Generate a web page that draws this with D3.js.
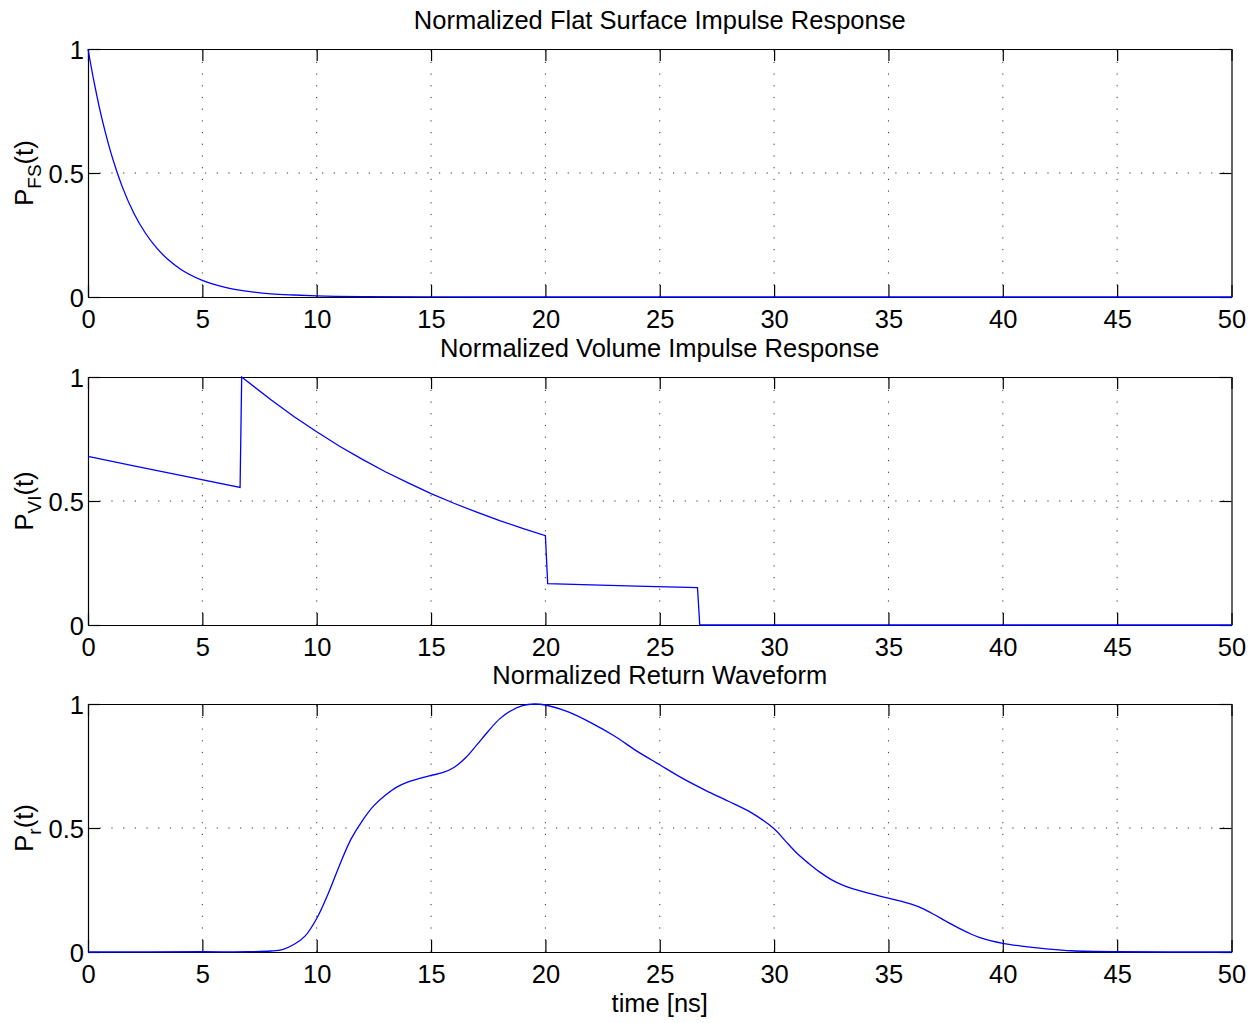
<!DOCTYPE html>
<html>
<head>
<meta charset="utf-8">
<script src="https://cdn.jsdelivr.net/npm/d3@7/dist/d3.min.js"></script>
<style>
  html, body { margin: 0; padding: 0; background: #fff; }
  svg text { font-family: "Liberation Sans", Arial, Helvetica, sans-serif; fill: #000; }
</style>
</head>
<body>
<svg id="chart" width="1257" height="1023"></svg>
<script>
// tick values shared by every panel
var xTicks = [0, 5, 10, 15, 20, 25, 30, 35, 40, 45, 50];
var yTicks = [0, 0.5, 1];

// panel 1: flat surface impulse response
var flatTime  = [0, 0.25, 0.5, 0.75, 1, 1.25, 1.5, 2, 2.5, 3, 3.5, 4, 5, 6, 7, 8, 9, 10, 12, 15, 20, 50];
var flatPower = [1, 0.874, 0.763, 0.667, 0.582, 0.509, 0.444, 0.339, 0.259, 0.198, 0.151, 0.115, 0.067, 0.039, 0.023, 0.013, 0.008, 0.0045, 0.0015, 0.0003, 0, 0];

// panel 2: volume impulse response
var volTime  = [0, 2, 4, 6.65, 6.72, 8, 9, 10, 11, 12, 13, 14, 15, 16, 17, 18, 19, 20, 20.1, 22, 24, 26.65, 26.75, 50];
var volPower = [0.68, 0.642, 0.604, 0.555, 1, 0.908, 0.841, 0.779, 0.721, 0.668, 0.618, 0.573, 0.530, 0.491, 0.455, 0.421, 0.390, 0.360, 0.167, 0.162, 0.157, 0.151, 0, 0];

// panel 3: return waveform
var retTime  = [0, 5, 7, 8, 8.5, 9, 9.5, 10, 10.5, 11, 11.5, 12, 12.5, 13, 13.5, 14, 14.5, 15, 15.5, 16, 16.5, 17, 17.5, 18, 18.5, 19, 19.5, 20, 21, 22, 23, 24, 25, 26, 27, 28, 29, 30, 30.5, 31, 31.5, 32, 32.5, 33, 34, 35, 36, 36.5, 37, 37.5, 38, 38.5, 39, 40, 41, 42, 43, 45, 50];
var retPower = [0, 0.001, 0.001, 0.004, 0.01, 0.03, 0.065, 0.135, 0.235, 0.35, 0.455, 0.53, 0.59, 0.632, 0.665, 0.686, 0.70, 0.712, 0.723, 0.744, 0.782, 0.835, 0.89, 0.94, 0.973, 0.993, 1.0, 0.996, 0.968, 0.924, 0.872, 0.81, 0.755, 0.70, 0.652, 0.608, 0.562, 0.497, 0.447, 0.398, 0.358, 0.322, 0.292, 0.27, 0.24, 0.217, 0.193, 0.175, 0.151, 0.125, 0.10, 0.077, 0.058, 0.035, 0.022, 0.012, 0.005, 0.001, 0];

var titles = ['Normalized Flat Surface Impulse Response', 'Normalized Volume Impulse Response', 'Normalized Return Waveform'];
var subscripts = ['FS', 'VI', 'r'];

var panels = [
  { time: flatTime, power: flatPower, curve: d3.curveMonotoneX },
  { time: volTime, power: volPower, curve: d3.curveLinear },
  { time: retTime, power: retPower, curve: d3.curveCatmullRom.alpha(0.5) }
];

var svg = d3.select('#chart');

var left = 88, right = 1231.5,
  panelTop = [49, 377, 704],
  panelHeight = 248,
  fontSize = 25.5;

var x = d3.scaleLinear().domain([0, 50]).range([left, right]);

panels.forEach(function(p, i) {
  var top = panelTop[i], bottom = top + panelHeight;
  var y = d3.scaleLinear().domain([0, 1]).range([bottom, top]);

  var g = svg.append('g').attr('class', 'panel-' + i);

  // dotted grid
  var grid = g.append('g').attr('class', 'grid')
    .attr('stroke', '#333').attr('stroke-width', 1).attr('stroke-dasharray', '1.2,10.5');

  grid.selectAll('line.gx').data(xTicks.slice(1, -1)).enter()
    .append('line').attr('class', 'gx')
    .attr('x1', d => x(d)).attr('x2', d => x(d))
    .attr('y1', bottom).attr('y2', top);

  grid.selectAll('line.gy').data(yTicks.slice(1, -1)).enter()
    .append('line').attr('class', 'gy')
    .attr('x1', left).attr('x2', right)
    .attr('y1', d => y(d)).attr('y2', d => y(d));

  // box axes, ticks pointing inward
  g.append('g').attr('transform', `translate(0,${bottom})`)
    .call(d3.axisBottom(x).tickValues(xTicks).tickSizeInner(-12).tickSizeOuter(0).tickPadding(13).tickFormat(d3.format('d')));
  g.append('g').attr('transform', `translate(0,${top})`)
    .call(d3.axisTop(x).tickValues(xTicks).tickSizeInner(-12).tickSizeOuter(0).tickFormat(''));
  var yl = g.append('g').attr('transform', `translate(${left},0)`)
    .call(d3.axisLeft(y).tickValues(yTicks).tickSizeInner(-12).tickSizeOuter(0).tickPadding(4).tickFormat(d3.format('')));
  g.append('g').attr('transform', `translate(${right},0)`)
    .call(d3.axisRight(y).tickValues(yTicks).tickSizeInner(-12).tickSizeOuter(0).tickFormat(''));

  g.selectAll('.domain').attr('stroke', '#000').attr('stroke-width', 1.2);
  g.selectAll('.tick line').attr('stroke', '#000').attr('stroke-width', 1.2);
  g.selectAll('.tick text').attr('font-size', fontSize).attr('fill', '#000')
    .style('font-family', '"Liberation Sans", Arial, sans-serif');
  yl.selectAll('.tick text').attr('dy', '0.36em');

  // title
  g.append('text')
    .attr('x', (left + right) / 2)
    .attr('y', top - 20)
    .attr('text-anchor', 'middle')
    .attr('font-size', fontSize)
    .text(titles[i]);

  // y label with subscript
  var lab = g.append('text')
    .attr('transform', `translate(33,${(top + bottom) / 2}) rotate(-90)`)
    .attr('text-anchor', 'middle')
    .attr('font-size', fontSize);
  lab.append('tspan').text('P');
  lab.append('tspan').attr('font-size', 19).attr('dy', 8).text(subscripts[i]);
  lab.append('tspan').attr('dy', -8).text('(t)');

  // curve
  var pts = p.time.map((t, k) => [t, p.power[k]]);
  g.append('path')
    .datum(pts)
    .attr('fill', 'none')
    .attr('stroke', '#0000ff')
    .attr('stroke-width', 1.3)
    .attr('d', d3.line().x(d => x(d[0])).y(d => y(d[1])).curve(p.curve));
});

// x axis label
svg.append('text')
  .attr('x', (left + right) / 2)
  .attr('y', 1012)
  .attr('text-anchor', 'middle')
  .attr('font-size', fontSize)
  .text('time [ns]');
</script>
</body>
</html>
